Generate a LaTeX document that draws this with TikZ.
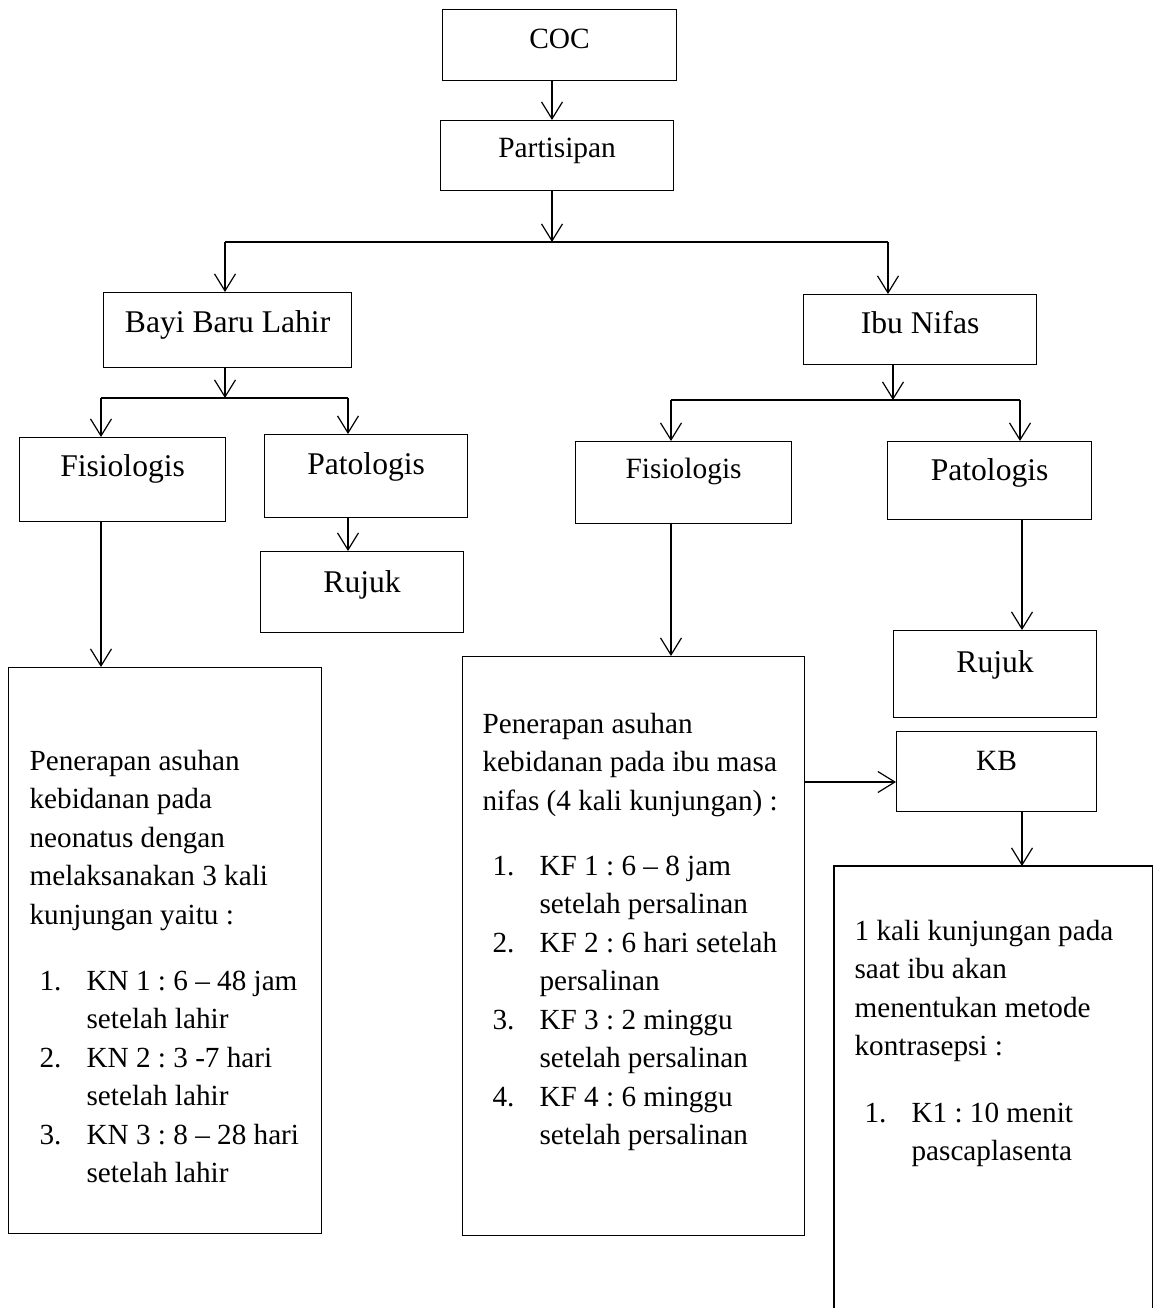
\documentclass[tikz,border=0pt]{standalone}
\usepackage{fontspec}
\setmainfont{Liberation Serif}
\usetikzlibrary{arrows.meta}
\frenchspacing
\newcommand{\NumI}[1]{\hspace*{5pt}\makebox[23.5pt][l]{#1}}
\newcommand{\ContI}{\hspace*{28.5pt}}
\begin{document}
\frenchspacing
\begin{tikzpicture}[x=0.5pt,y=-0.5pt,
  line width=0.6pt,
  arr/.style={-{Straight Barb[length=8.5pt,width=10.5pt]}},
  lbl/.style={draw, rectangle, inner sep=0pt, anchor=north west, align=center},
  bigfont/.style={font=\fontsize{15.8}{19}\selectfont},
  smallfont/.style={font=\fontsize{14.7}{19}\selectfont},
  bigbox/.style={draw, rectangle, inner sep=0pt, anchor=north west},
  body/.style={inner sep=0pt, anchor=base west, font=\fontsize{14.6}{19.25}\selectfont},
]
\useasboundingbox (0,0) rectangle (1153,1308);

% label boxes
\node[lbl, smallfont, minimum width=117pt, text height=19.5pt, text depth=16pt] (coc) at (442,9) {COC};
\node[lbl, smallfont, minimum width=116.5pt, text height=18.5pt, text depth=16.5pt] (part) at (440,120) {Partisipan};
\node[lbl, bigfont, minimum width=124pt, text height=20pt, text depth=17.5pt] (bayi) at (103,292) {Bayi Baru Lahir};
\node[lbl, bigfont, minimum width=116.5pt, text height=19.5pt, text depth=15.5pt] (ibu) at (803,294) {Ibu Nifas};
\node[lbl, bigfont, minimum width=103pt, text height=19.5pt, text depth=22.5pt] (fisl) at (19,437) {Fisiologis};
\node[lbl, bigfont, minimum width=101.5pt, text height=20pt, text depth=21.5pt] (patl) at (264,434) {Patologis};
\node[lbl, bigfont, minimum width=101.5pt, text height=20.5pt, text depth=20pt] (rujl) at (260,551) {Rujuk};
\node[lbl, smallfont, minimum width=108pt, text height=18.5pt, text depth=22.5pt] (fisr) at (575,441) {Fisiologis};
\node[lbl, bigfont, minimum width=102pt, text height=19.5pt, text depth=19.5pt] (patr) at (887,441) {Patologis};
\node[lbl, bigfont, minimum width=101.5pt, text height=21pt, text depth=22.5pt] (rujr) at (893,630) {Rujuk};
\node[lbl, smallfont, minimum width=100pt, text height=19.5pt, text depth=20.5pt] (kb) at (896,731) {KB};

% large boxes
\node[bigbox, minimum width=156.5pt, minimum height=283pt] (lbox) at (8,667) {};
\node[bigbox, minimum width=171pt, minimum height=289.5pt] (mbox) at (462,656) {};
\node[inner sep=0pt, anchor=north west, minimum width=158.5pt, minimum height=221pt] (rbox) at (834,866) {};
\draw (rbox.south west) -- (rbox.north west) -- (rbox.north east) -- (rbox.south east);

% texts of large boxes
\node[body] (ltext) at (29,770) {\begin{tabular}[t]{@{}l@{}}
Penerapan asuhan\\
kebidanan pada\\
neonatus dengan\\
melaksanakan 3 kali\\
kunjungan yaitu :\\[13.75pt]
\NumI{1.}KN 1 : 6 – 48 jam\\
\ContI setelah lahir\\
\NumI{2.}KN 2 : 3 -7 hari\\
\ContI setelah lahir\\
\NumI{3.}KN 3 : 8 – 28 hari\\
\ContI setelah lahir
\end{tabular}};

\node[body] (mtext) at (482,733) {\begin{tabular}[t]{@{}l@{}}
Penerapan asuhan\\
kebidanan pada ibu masa\\
nifas (4 kali kunjungan) :\\[13.25pt]
\NumI{1.}KF 1 : 6 – 8 jam\\
\ContI setelah persalinan\\
\NumI{2.}KF 2 : 6 hari setelah\\
\ContI persalinan\\
\NumI{3.}KF 3 : 2 minggu\\
\ContI setelah persalinan\\
\NumI{4.}KF 4 : 6 minggu\\
\ContI setelah persalinan
\end{tabular}};

\node[body] (rtext) at (854,940) {\begin{tabular}[t]{@{}l@{}}
1 kali kunjungan pada\\
saat ibu akan\\
menentukan metode\\
kontrasepsi :\\[14pt]
\NumI{1.}K1 : 10 menit\\
\ContI pascaplasenta
\end{tabular}};

% connectors: top
\coordinate (m1) at (552,242);
\coordinate (jl) at (225,242);
\coordinate (jr) at (888,242);
\draw[arr] (coc.south -| m1) -- (part.north -| m1);
\draw[arr] (part.south -| m1) -- (m1);
\draw (jl) -- (jr);
\draw[arr] (jl) -- (bayi.north -| jl);
\draw[arr] (jr) -- (ibu.north -| jr);

% Bayi branch
\coordinate (m2) at (225,398);
\coordinate (bl) at (101,398);
\coordinate (br) at (348,398);
\draw[arr] (bayi.south -| m2) -- (m2);
\draw (bl) -- (br);
\draw[arr] (bl) -- (fisl.north -| bl);
\draw[arr] (br) -- (patl.north -| br);
\draw[arr] (patl.south -| br) -- (rujl.north -| br);
\draw[arr] (fisl.south -| bl) -- (lbox.north -| bl);

% Ibu branch
\coordinate (m3) at (893,400);
\coordinate (il) at (671,400);
\coordinate (ir) at (1020,400);
\coordinate (cr) at (1022,400);
\draw[arr] (ibu.south -| m3) -- (m3);
\draw (il) -- (ir);
\draw[arr] (il) -- (fisr.north -| il);
\draw[arr] (ir) -- (patr.north -| ir);
\draw[arr] (fisr.south -| il) -- (mbox.north -| il);
\draw[arr] (patr.south -| cr) -- (rujr.north -| cr);
\coordinate (kbrow) at (804,782);
\draw[arr] (mbox.east |- kbrow) -- (kb.west |- kbrow);
\draw[arr] (kb.south -| cr) -- (rbox.north -| cr);
\end{tikzpicture}
\end{document}
